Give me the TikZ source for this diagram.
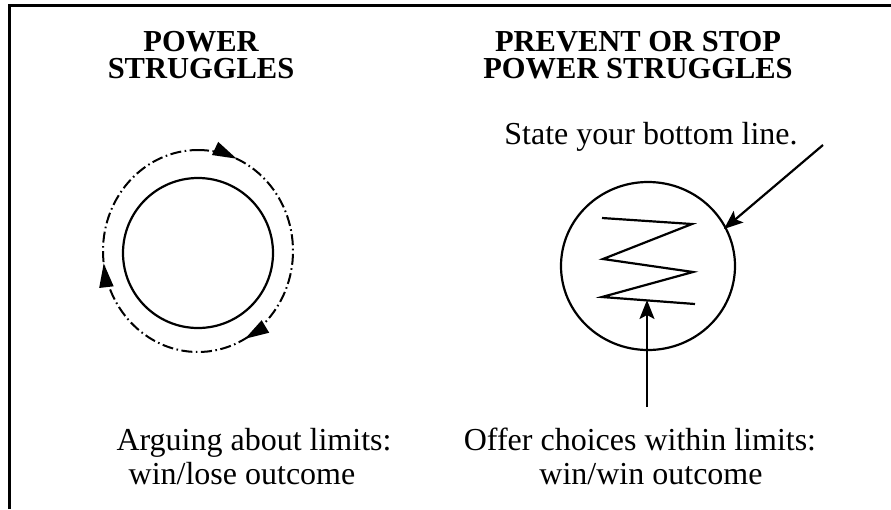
\documentclass[tikz,border=0pt]{standalone}
\usepackage{fontspec}
\setmainfont{Liberation Serif}
\usetikzlibrary{arrows.meta,decorations.markings,shapes.geometric}
\begin{document}
\begin{tikzpicture}[x=1pt,y=1pt,
  headline/.style={font=\fontsize{30.5}{27}\selectfont\bfseries, anchor=base, inner sep=0pt, align=center},
  caption/.style={font=\fontsize{32}{34}\selectfont, anchor=base, inner sep=0pt},
  frameline/.style={line width=2.6pt},
  outline/.style={line width=2.2pt},
  ring/.style={line width=2pt, dash pattern=on 11pt off 3.5pt on 1.6pt off 3.5pt},
  pointer/.style={line width=2.2pt, -{Stealth[length=19pt,width=15pt,inset=4pt]}}
]
\useasboundingbox (0,0) rectangle (891,-509);
% frame
\draw[frameline] (9.5,-509) -- (9.5,-5.5) -- (891,-5.5);

% titles (base anchor = baseline of last line)
\node[headline] (t1) at (201,-78) {POWER\\STRUGGLES};
\node[headline] (t2) at (638,-78) {PREVENT OR STOP\\POWER STRUGGLES};

% left: circles
\node[outline, draw, circle, minimum size=150pt, inner sep=0pt] (lc) at (198,-253) {};
\path[ring, draw, postaction={decorate}, decoration={markings,
    mark=at position 0.065 with {\arrow[solid]{Triangle[length=24pt,width=14pt]}},
    mark=at position 0.42 with {\arrow[solid]{Triangle[length=24pt,width=14pt]}},
    mark=at position 0.73 with {\arrow[solid]{Triangle[length=24pt,width=14pt]}}}]
  (198,-150) arc[start angle=90, delta angle=-360, x radius=95, y radius=101];

% right: circle + zigzag
\node[outline, draw, ellipse, minimum width=174pt, minimum height=168pt, inner sep=0pt] (rc) at (648,-266) {};
\draw[outline, line join=miter] (602,-218) -- (692,-224) -- (603,-259) -- (693,-272) -- (602,-297) -- (695,-304);

\node[caption] (s1) at (651,-144) {State your bottom line.};
\coordinate (a1s) at (823,-145);
\coordinate (a1e) at (724,-229);
\draw[pointer] (a1s) -- (a1e);
\coordinate (a2s) at (647,-407);
\coordinate (a2e) at (647,-300);
\draw[pointer] (a2s) -- (a2e);

% bottom labels
\node[caption] (l1) at (254,-450) {Arguing about limits:};
\node[caption] (l2) at (242,-484) {win/lose outcome};
\node[caption] (r1) at (640,-450) {Offer choices within limits:};
\node[caption] (r2) at (651,-484) {win/win outcome};
\end{tikzpicture}
\end{document}
